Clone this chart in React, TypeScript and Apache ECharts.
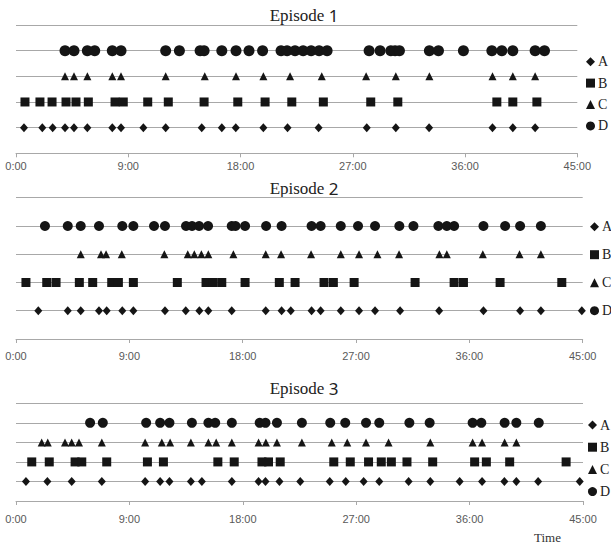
import React, { useEffect, useRef } from 'react';
import * as echarts from 'echarts';

const rows = ['A', 'B', 'C', 'D'];
const rowLevel: Record<string, number> = { A: 1, B: 2, C: 3, D: 4 };
const rowSymbol: Record<string, any> = { A: 'diamond', B: 'rect', C: 'triangle', D: 'circle' };
const episodeNames = ['1', '2', '3'];
const timeMax = 45;
const tickStep = 9;

// Event times (minutes) per episode and behaviour row
const ep1A = [0.64, 2.11, 2.94, 3.93, 4.65, 5.72, 7.72, 8.42, 10.21, 12.0, 14.89, 16.5, 17.62, 19.83, 21.77, 24.26, 28.12, 30.45, 33.12, 38.2, 39.83, 41.62];
const ep1B = [0.72, 1.92, 2.89, 4.01, 4.81, 5.8, 7.94, 8.6, 10.56, 12.21, 15.08, 17.78, 19.97, 22.11, 24.64, 28.44, 30.61, 38.55, 39.83, 41.76];
const ep1C = [3.93, 4.65, 5.72, 7.72, 8.42, 12.0, 15.13, 17.64, 19.83, 21.97, 24.51, 28.07, 30.45, 33.14, 38.2, 39.83, 41.62];
const ep1D = [3.93, 4.65, 5.72, 6.31, 7.72, 8.42, 12.0, 13.1, 14.76, 15.08, 16.5, 17.64, 18.68, 19.77, 21.25, 21.73, 22.37, 23.02, 23.66, 24.3, 24.94, 28.31, 29.19, 30.05, 30.39, 30.74, 33.14, 33.87, 35.87, 38.15, 38.95, 39.83, 41.62, 42.37];

const ep2A = [1.77, 4.11, 5.14, 6.59, 7.2, 8.44, 9.32, 11.83, 13.48, 14.56, 15.27, 17.13, 19.83, 21.09, 21.82, 23.47, 24.19, 25.79, 27.24, 28.51, 30.5, 33.6, 37.12, 40.03, 41.68, 44.93];
const ep2B = [0.79, 2.44, 3.18, 5.03, 6.09, 7.6, 8.13, 9.32, 12.81, 15.09, 15.65, 16.34, 18.19, 20.91, 22.16, 24.46, 25.2, 26.85, 31.69, 34.79, 35.53, 38.44, 43.34];
const ep2C = [5.14, 6.75, 7.15, 8.4, 11.78, 13.64, 14.16, 14.72, 15.27, 17.26, 19.83, 21.05, 23.43, 25.79, 27.24, 28.7, 30.42, 33.62, 34.21, 37.07, 39.98, 41.68];
const ep2D = [2.3, 4.11, 5.14, 6.59, 8.44, 9.32, 10.96, 11.83, 13.5, 13.98, 14.54, 15.25, 17.13, 17.43, 18.19, 19.86, 21.09, 23.47, 24.19, 25.79, 27.16, 28.51, 30.44, 31.56, 33.54, 34.21, 34.79, 37.12, 38.84, 40.03, 41.68];

const ep3A = [0.79, 2.49, 4.42, 6.81, 10.25, 11.44, 12.18, 13.88, 14.75, 17.13, 19.25, 19.8, 20.91, 22.56, 24.9, 26.17, 27.59, 28.83, 31.16, 32.88, 35.21, 36.99, 38.76, 39.71, 41.44, 44.74];
const ep3B = [1.25, 2.64, 4.69, 5.22, 7.2, 10.43, 11.7, 16.02, 17.32, 19.52, 20.04, 20.97, 25.22, 26.53, 27.98, 28.99, 29.79, 31.03, 33.07, 36.4, 37.33, 39.18, 43.66];
const ep3C = [2.04, 2.52, 3.89, 4.42, 5.0, 6.81, 10.25, 11.57, 12.23, 13.88, 15.27, 15.89, 17.13, 19.25, 19.83, 20.71, 22.69, 25.06, 26.29, 27.78, 29.57, 32.88, 36.24, 36.99, 38.78, 39.71];
const ep3D = [5.88, 6.89, 10.33, 11.44, 12.18, 13.96, 15.27, 15.81, 17.13, 19.34, 19.8, 20.71, 22.69, 24.94, 26.13, 27.78, 28.83, 31.22, 32.83, 36.24, 36.93, 38.78, 39.71, 41.49];

const episodeData: Record<string, number[]>[] = [
  { A: ep1A, B: ep1B, C: ep1C, D: ep1D },
  { A: ep2A, B: ep2B, C: ep2C, D: ep2D },
  { A: ep3A, B: ep3B, C: ep3C, D: ep3D },
];

// layout (pixels)
const grids = [
  { left: 16, top: 25, width: 561.3, height: 128.3 },
  { left: 16, top: 197.7, width: 566.7, height: 141.3 },
  { left: 16, top: 403.3, width: 567, height: 97.7 },
];
const labelMargins = [7, 11, 12.5];
const titleY = [15, 188.3, 388.3];
const legendPos = [
  { left: 586, top: 54.7, gap: 7.4 },
  { left: 590, top: 219.7, gap: 14 },
  { left: 588, top: 418, gap: 8.2 },
];
const circleSize = [11, 10, 10];

const lineColor = '#a8a8a8';
const markColor = '#151515';
const serif = "'Liberation Serif', 'DejaVu Serif', serif";

export default function App() {
  const ref = useRef<HTMLDivElement>(null);
  useEffect(() => {
    document.body.style.margin = '0';
    if (!ref.current) return;
    const chart = echarts.init(ref.current, undefined, { renderer: 'svg' });

    const series: any[] = [];
    episodeData.forEach((ep, e) => {
      rows.forEach((r) => {
        const size =
          r === 'D' ? circleSize[e] : r === 'B' ? 9 : r === 'C' ? [8, 8] : [8, 9];
        series.push({
          type: 'scatter',
          name: r,
          xAxisIndex: e,
          yAxisIndex: e,
          symbol: rowSymbol[r],
          symbolSize: size,
          itemStyle: { color: markColor, opacity: 1 },
          data: ep[r].map((t) => [t, rowLevel[r]]),
          silent: true,
        });
      });
    });

    const option: any = {
      animation: false,
      grid: grids.map((g) => ({ ...g, containLabel: false })),
      xAxis: grids.map((_, e) => ({
        type: 'value',
        gridIndex: e,
        min: 0,
        max: timeMax,
        interval: tickStep,
        axisLine: { show: true, lineStyle: { color: lineColor, width: 1 } },
        axisTick: { show: true, length: 4, lineStyle: { color: lineColor } },
        axisLabel: {
          formatter: (v: number) => `${v}:00`,
          color: '#595959',
          fontFamily: "'Liberation Sans', Arial, sans-serif",
          fontSize: 11,
          margin: labelMargins[e],
        },
        splitLine: { show: false },
      })),
      yAxis: grids.map((_, e) => ({
        type: 'value',
        gridIndex: e,
        min: 0,
        max: 5,
        interval: 1,
        axisLine: { show: false },
        axisTick: { show: false },
        axisLabel: { show: false },
        splitLine: { show: true, lineStyle: { color: lineColor, width: 1 } },
      })),
      legend: legendPos.map((p) => ({
        data: rows,
        orient: 'vertical',
        left: p.left,
        top: p.top,
        itemGap: p.gap,
        itemWidth: 9,
        itemHeight: 9,
        selectedMode: false,
        padding: 0,
        textStyle: { fontFamily: serif, fontSize: 14, color: '#222', lineHeight: 14, padding: [0, 0, 0, -2] },
      })),
      graphic: [
        ...episodeNames.map((n, e) => ({
          type: 'text',
          x: 304,
          y: titleY[e],
          style: {
            text: `{a|Episode }{b|${n}}`,
            textAlign: 'center',
            textVerticalAlign: 'middle',
            rich: {
              a: { fontFamily: serif, fontSize: 17, fill: '#222', color: '#222' },
              b: { fontFamily: "'Noto Sans', sans-serif", fontSize: 17, fill: '#222', color: '#222' },
            },
          },
        })),
        {
          type: 'text',
          x: 547.5,
          y: 537.7,
          style: {
            text: 'Time',
            textAlign: 'center',
            textVerticalAlign: 'middle',
            fontFamily: serif,
            fontSize: 13,
            fill: '#333',
          },
        },
      ],
      series,
    };
    chart.setOption(option);
    return () => chart.dispose();
  }, []);
  return <div ref={ref} style={{ width: 611, height: 545 }} />;
}
